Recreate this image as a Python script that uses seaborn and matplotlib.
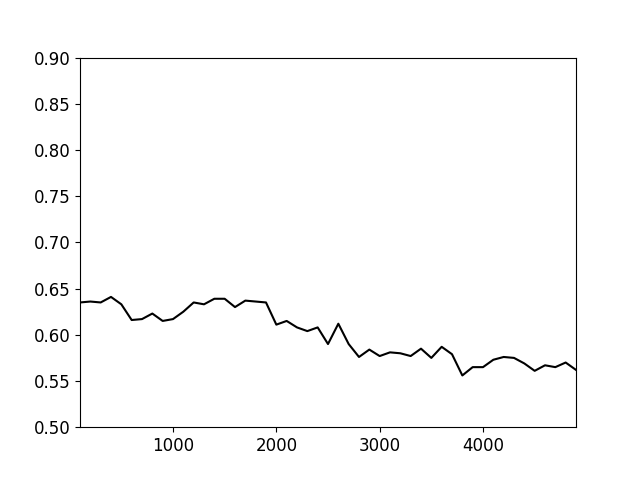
import matplotlib
matplotlib.use("Agg")
import matplotlib.pyplot as plt
import numpy as np
import pandas as pd
import seaborn as sns

steps = list(range(100, 5000, 100))
scores = [
    0.635, 0.636, 0.635, 0.641, 0.633, 0.616, 0.617, 0.623, 0.615, 0.617,
    0.625, 0.635, 0.633, 0.639, 0.639, 0.630, 0.637, 0.636, 0.635, 0.611,
    0.615, 0.608, 0.604, 0.608, 0.590, 0.612, 0.590, 0.576, 0.584, 0.577,
    0.581, 0.580, 0.577, 0.585, 0.575, 0.587, 0.579, 0.556, 0.565, 0.565,
    0.573, 0.576, 0.575, 0.569, 0.561, 0.567, 0.565, 0.570, 0.562,
]

df = pd.DataFrame({"step": steps, "score": scores})

fig, ax = plt.subplots(figsize=(6.4, 4.8), dpi=100)
sns.lineplot(data=df, x="step", y="score", color="black", ax=ax)
ax.set_xlim(100, 4900)
ax.set_ylim(0.5, 0.9)
ax.set_xlabel("")
ax.set_ylabel("")
ax.tick_params(labelsize=12)
fig.savefig("out.png", dpi=100)
plt.close(fig)
